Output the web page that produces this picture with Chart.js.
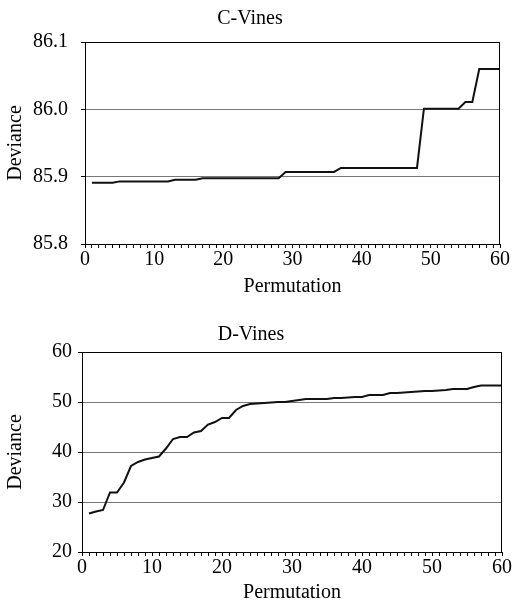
<!DOCTYPE html>
<html>
<head>
<meta charset="utf-8">
<script src="https://cdn.jsdelivr.net/npm/chart.js@4/dist/chart.umd.min.js"></script>
<style>
  body { margin: 0; background: #fff; }
  .box { position: absolute; left: 0; width: 512px; }
</style>
</head>
<body>
<div class="box" style="top:0;height:300px"><canvas id="cChart"></canvas></div>
<div class="box" style="top:300px;height:303px"><canvas id="dChart"></canvas></div>
<script>
// permutation index (x axis)
const permutations = [
  1, 2, 3, 4, 5, 6, 7, 8, 9, 10, 11, 12, 13, 14, 15, 16, 17, 18, 19, 20,
  21, 22, 23, 24, 25, 26, 27, 28, 29, 30, 31, 32, 33, 34, 35, 36, 37, 38, 39, 40,
  41, 42, 43, 44, 45, 46, 47, 48, 49, 50, 51, 52, 53, 54, 55, 56, 57, 58, 59, 60
];

// deviance
const cVinesDeviance = [
  85.891, 85.891, 85.891, 85.891, 85.893, 85.893, 85.893, 85.893, 85.893, 85.893,
  85.893, 85.893, 85.8955, 85.8955, 85.8955, 85.8955, 85.8975, 85.8975, 85.8975, 85.8975,
  85.8975, 85.8975, 85.8975, 85.8975, 85.8975, 85.8975, 85.8975, 85.8975, 85.907, 85.907,
  85.907, 85.907, 85.907, 85.907, 85.907, 85.907, 85.913, 85.913, 85.913, 85.913,
  85.913, 85.913, 85.913, 85.913, 85.913, 85.913, 85.913, 85.913, 86.001, 86.001,
  86.001, 86.001, 86.001, 86.001, 86.011, 86.011, 86.06, 86.06, 86.06, 86.06
];

// deviance
const dVinesDeviance = [
  27.7, 28.1, 28.4, 31.9, 31.9, 33.9, 37.2, 38.0, 38.5, 38.8,
  39.1, 40.7, 42.6, 43.0, 43.0, 43.9, 44.2, 45.5, 46.0, 46.8,
  46.8, 48.4, 49.2, 49.6, 49.7, 49.8, 49.9, 50.0, 50.0, 50.2,
  50.4, 50.6, 50.6, 50.6, 50.6, 50.8, 50.8, 50.9, 51.0, 51.0,
  51.4, 51.4, 51.4, 51.8, 51.8, 51.9, 52.0, 52.1, 52.2, 52.2,
  52.3, 52.4, 52.6, 52.6, 52.6, 53.0, 53.3, 53.3, 53.3, 53.3
];

const xTicks = [0, 10, 20, 30, 40, 50, 60];
const cYTicks = [85.8, 85.9, 86.0, 86.1];
const dYTicks = [20, 30, 40, 50, 60];

Chart.defaults.font.family = "'Liberation Serif', 'Times New Roman', serif";
Chart.defaults.font.size = 20;
Chart.defaults.color = "#000";

// box around the plot area
const framePlugin = {
  id: "frame",
  afterDraw(chart) {
    const { ctx, chartArea } = chart;
    ctx.save();
    ctx.strokeStyle = "#000";
    ctx.lineWidth = 1;
    ctx.strokeRect(chartArea.left + 0.5, chartArea.top + 0.5,
      chartArea.right - chartArea.left - 1, chartArea.bottom - chartArea.top);
    ctx.restore();
  },
};

function makeChart(id, title, values, yTicks, opts) {
  const points = permutations.map((p, i) => ({ x: p, y: values[i] }));
  return new Chart(document.getElementById(id), {
    type: "line",
    data: {
      datasets: [{
        data: points,
        borderColor: "#111",
        borderWidth: 2,
        pointRadius: 0,
        tension: 0,
        fill: false,
      }],
    },
    options: {
      responsive: true,
      maintainAspectRatio: false,
      animation: false,
      layout: { padding: { left: 0, right: opts.right, top: 0, bottom: 0 } },
      plugins: {
        legend: { display: false },
        tooltip: { enabled: false },
        title: {
          display: true,
          text: title,
          color: "#000",
          font: { size: 20, weight: "normal", lineHeight: 1.2 },
          padding: { top: opts.titleTop, bottom: opts.titleBottom },
        },
      },
      scales: {
        x: {
          type: "linear",
          min: xTicks[0],
          max: xTicks[xTicks.length - 1],
          afterBuildTicks: (scale) => {
            scale.ticks = permutations.map((v) => ({ value: v })).concat([{ value: 0 }])
              .sort((a, b) => a.value - b.value);
          },
          ticks: {
            autoSkip: false,
            maxRotation: 0,
            padding: 0,
            callback: (v) => (xTicks.includes(v) ? String(v) : ""),
          },
          grid: { drawOnChartArea: false, tickLength: 4, color: "#000" },
          border: { color: "#000" },
          title: {
            display: true,
            text: "Permutation",
            font: { size: 20, lineHeight: 1 },
            padding: { top: 0, bottom: opts.xTitlePad },
          },
          afterFit: (scale) => { scale.height = opts.xHeight; },
        },
        y: {
          min: yTicks[0],
          max: yTicks[yTicks.length - 1],
          afterBuildTicks: (scale) => {
            scale.ticks = yTicks.map((v) => ({ value: v }));
          },
          ticks: {
            padding: opts.yPad,
            callback: (v) => opts.fmt(v),
          },
          grid: { color: "#777", tickLength: 4, tickColor: "#000" },
          border: { color: "#000" },
          title: {
            display: true,
            text: "Deviance",
            font: { size: 20, lineHeight: 1 },
            padding: { top: 6, bottom: 0 },
          },
          afterFit: (scale) => { scale.width = opts.yWidth; },
        },
      },
    },
    plugins: [framePlugin],
  });
}

makeChart("cChart", "C-Vines", cVinesDeviance, cYTicks, {
  right: 12, titleTop: 7, titleBottom: 11, xHeight: 56, xTitlePad: 3,
  yPad: 13, yWidth: 85, fmt: (v) => v.toFixed(1),
});

makeChart("dChart", "D-Vines", dVinesDeviance, dYTicks, {
  right: 10, titleTop: 23, titleBottom: 5, xHeight: 51, xTitlePad: 0,
  yPad: 6, yWidth: 82, fmt: (v) => String(Math.round(v)),
});
</script>
</body>
</html>
